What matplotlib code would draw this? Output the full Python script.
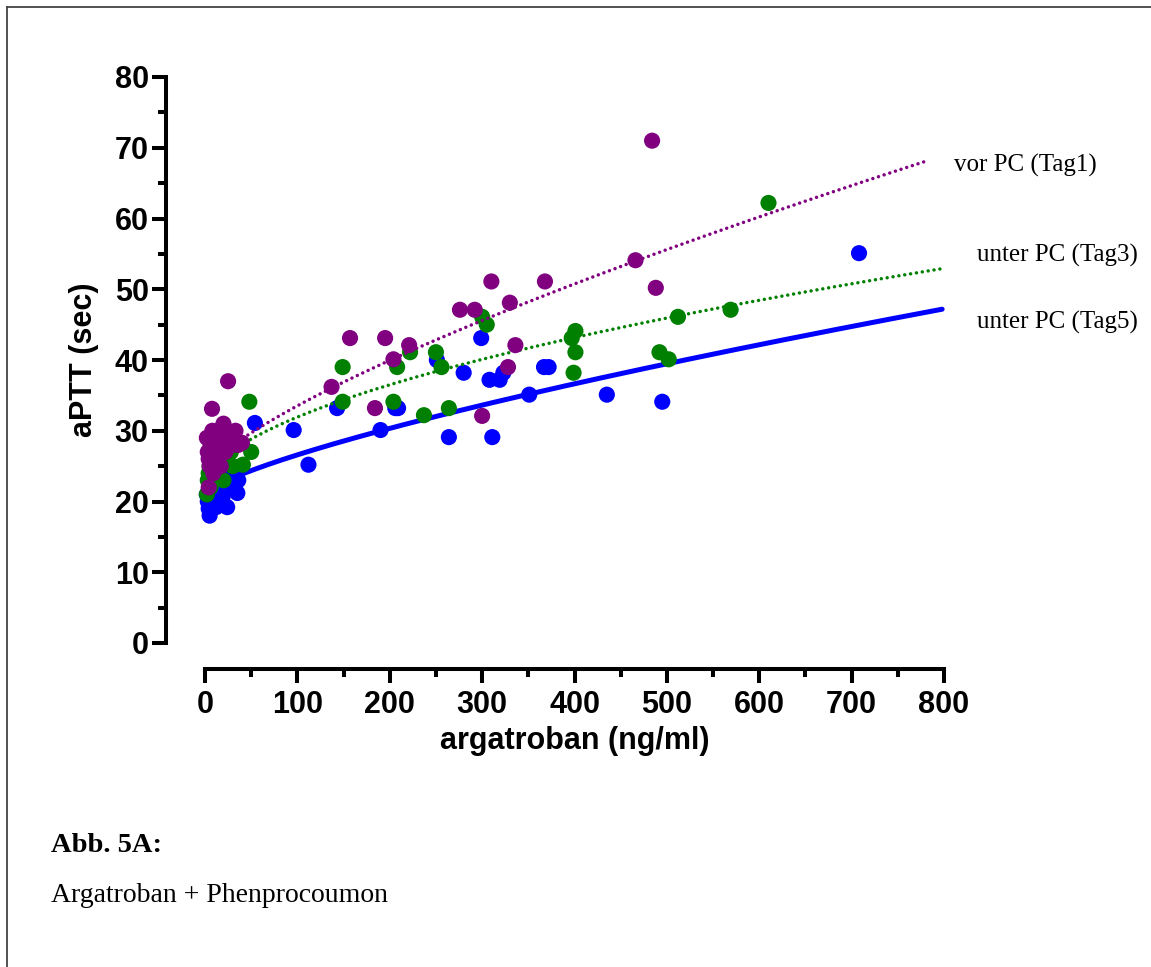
import matplotlib
matplotlib.use("Agg")
import matplotlib.pyplot as plt
import numpy as np
from matplotlib.lines import Line2D

# ---------------- data ----------------
# Tag5 (unter PC) - blue
tag5_x = [3, 4, 5, 2, 8, 11, 15, 19, 24, 28, 32, 35, 36, 22, 12,
          54, 96, 112, 143, 190, 206, 209, 251, 264, 280, 299, 308,
          311, 319, 323, 351, 367, 372, 435, 495, 708]
tag5_y = [20, 19, 18, 21, 20, 22, 23, 20.6, 19.2, 22, 23.3, 21.2, 23, 24, 19.2,
          31.1, 30.1, 25.2, 33.2, 30.1, 33.2, 33.2, 40.0, 29.1, 38.2, 43.1, 37.2,
          29.1, 37.2, 38.2, 35.1, 39.0, 39.0, 35.1, 34.1, 55.1]

# Tag3 (unter PC) - green
tag3_x = [2, 3, 4, 5, 6, 8, 10, 12, 15, 18, 20, 25, 28, 30, 41, 50, 48,
          149, 149, 204, 208, 222, 237, 250, 256, 264, 300, 305,
          397, 399, 401, 401, 492, 502, 512, 569, 610]
tag3_y = [21, 23, 24, 25, 22, 26, 24, 27, 25, 28, 23, 26.6, 27, 25, 25.2, 27, 34.1,
          34.1, 39.0, 34.1, 39.0, 41.1, 32.2, 41.1, 39.0, 33.2, 46.1, 45.0,
          43.1, 38.2, 44.1, 41.1, 41.1, 40.1, 46.1, 47.1, 62.2]

# Tag1 (vor PC) - purple
tag1_x = [2, 3, 4, 4, 5, 6, 7.6, 8, 9, 10, 11, 12, 14, 15, 17, 18, 20, 22, 24,
          25, 26, 28, 30, 33, 36, 40,
          137, 157, 184, 195, 204, 221, 276, 292, 300, 310, 328, 330, 336,
          368, 466, 484, 488]
tag1_y = [29, 27, 26, 22, 25, 28, 33.1, 30, 24, 27, 29, 26, 30, 28, 25, 29, 31, 27, 30,
          37, 28, 29, 28, 30, 28, 28.3,
          36.2, 43.1, 33.2, 43.1, 40.1, 42.1, 47.1, 47.1, 32.1, 51.1, 39.0, 48.1, 42.1,
          51.1, 54.1, 71.0, 50.2]

# fitted curves  y = a + b * x^c  (parameters)
fit_tag5 = [21.1, 0.1737, 0.75]
fit_tag3 = [22.1, 0.781, 0.55]
fit_tag1 = [24.1, 0.298, 0.75]
fit_range_tag5 = [2, 798]
fit_range_tag3 = [2, 798]
fit_range_tag1 = [2, 784]

labels = ["vor PC (Tag1)", "unter PC (Tag3)", "unter PC (Tag5)"]
xticks_major = [0, 100, 200, 300, 400, 500, 600, 700, 800]
yticks_major = [0, 10, 20, 30, 40, 50, 60, 70, 80]

BLUE = "#0000ff"
GREEN = "#008000"
PURPLE = "#800080"

W, H = 1151, 967
fig = plt.figure(figsize=(W / 100, H / 100), dpi=100)

def fx(px):
    return px / W

def fy(py):
    return 1 - py / H

# axes: x=0 at px 205, x=800 at px 944; y=0 at py 643, y=80 at py 77
ax = fig.add_axes([fx(205), fy(643), fx(944) - fx(205), fy(77) - fy(643)])
ax.set_xlim(0, 800)
ax.set_ylim(0, 80)
ax.patch.set_alpha(0)

def curve(p, rng):
    xs = np.linspace(rng[0], rng[1], 300)
    return xs, p[0] + p[1] * xs ** p[2]

ms = 135
# blue
ax.scatter(tag5_x, tag5_y, s=ms, color=BLUE, edgecolors="none", clip_on=False, zorder=3)
x5, y5 = curve(fit_tag5, fit_range_tag5)
ax.plot(x5, y5, color=BLUE, lw=3.6, solid_capstyle="round", clip_on=False, zorder=4)
# green
ax.scatter(tag3_x, tag3_y, s=ms, color=GREEN, edgecolors="none", clip_on=False, zorder=5)
x3, y3 = curve(fit_tag3, fit_range_tag3)
ax.plot(x3, y3, color=GREEN, lw=2.5, linestyle=(0, (0.01, 1.7)), dash_capstyle="round",
        clip_on=False, zorder=6)
# purple
ax.scatter(tag1_x, tag1_y, s=ms, color=PURPLE, edgecolors="none", clip_on=False, zorder=7)
x1, y1 = curve(fit_tag1, fit_range_tag1)
ax.plot(x1, y1, color=PURPLE, lw=2.5, linestyle=(0, (0.01, 1.7)), dash_capstyle="round",
        clip_on=False, zorder=8)

# spines (Prism style, offset)
for s in ["top", "right"]:
    ax.spines[s].set_visible(False)
ax.spines["left"].set_position(("outward", 39 * 0.72))
ax.spines["bottom"].set_position(("outward", 26 * 0.72))
ax.spines["left"].set_bounds(0, 80)
ax.spines["bottom"].set_bounds(0, 800)
for s in ["left", "bottom"]:
    ax.spines[s].set_linewidth(2.9)
    ax.spines[s].set_capstyle("projecting")

ax.set_xticks(xticks_major)
ax.set_xticks([50, 150, 250, 350, 450, 550, 650, 750], minor=True)
ax.set_yticks(yticks_major)
ax.set_yticks([5, 15, 25, 35, 45, 55, 65, 75], minor=True)
ax.tick_params(axis="both", which="major", length=10, width=2.9, direction="out",
               labelsize=22)
ax.tick_params(axis="x", which="major", pad=5)
ax.tick_params(axis="y", which="major", pad=2.5)
ax.tick_params(axis="both", which="minor", length=5.5, width=2.9, direction="out")
for lab in ax.get_xticklabels() + ax.get_yticklabels():
    lab.set_fontweight("bold")
    lab.set_fontfamily("Liberation Sans")

fig.text(fx(575), fy(741), "argatroban (ng/ml)", ha="center", va="center",
         fontsize=22, fontweight="bold", family="Liberation Sans")
fig.text(fx(84), fy(360), "aPTT (sec)", ha="center", va="center", rotation=90,
         fontsize=22, fontweight="bold", family="Liberation Sans")

# curve labels
fig.text(fx(954), fy(165), labels[0], ha="left", va="center", fontsize=18,
         family="Liberation Serif")
fig.text(fx(977), fy(255), labels[1], ha="left", va="center", fontsize=18,
         family="Liberation Serif")
fig.text(fx(977), fy(322), labels[2], ha="left", va="center", fontsize=18,
         family="Liberation Serif")

# caption
fig.text(fx(51), fy(845), "Abb. 5A:", ha="left", va="center", fontsize=20.5,
         fontweight="bold", family="Liberation Serif")
fig.text(fx(51), fy(895), "Argatroban + Phenprocoumon", ha="left", va="center",
         fontsize=20, family="Liberation Serif")

# page frame
frame_color = "#444444"
fig.add_artist(Line2D([fx(7), fx(7)], [fy(7), fy(967)], color=frame_color, lw=1.3,
                      transform=fig.transFigure))
fig.add_artist(Line2D([fx(7), fx(1151)], [fy(7), fy(7)], color=frame_color, lw=1.3,
                      transform=fig.transFigure))

fig.savefig("out.png", dpi=100)
